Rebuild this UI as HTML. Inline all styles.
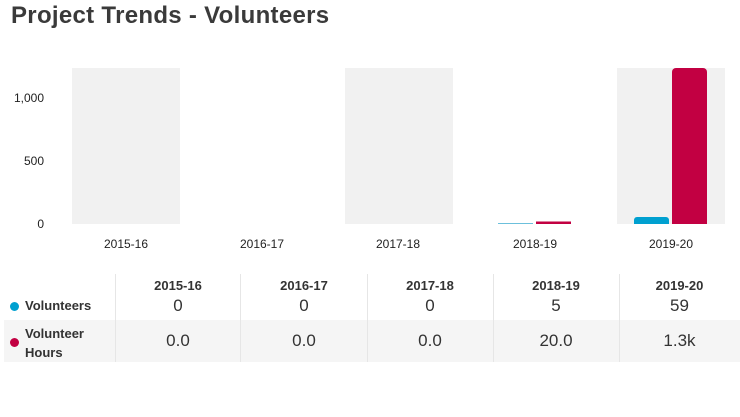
<!DOCTYPE html>
<html><head><style>
body{margin:0;width:740px;height:417px;background:#fff;font-family:"Liberation Sans",sans-serif;position:relative;overflow:hidden;color:#333}
.a{position:absolute}
td{padding:0}
</style></head><body>
<div class="a" style="left:11px;top:2px;font-size:24px;letter-spacing:0.3px;font-weight:bold;color:#3a3a3a">Project Trends - Volunteers</div>
<svg class="a" style="left:0;top:0" width="740" height="270">
<rect x="72" y="68" width="108" height="156" fill="#f1f1f1"/>
<rect x="345" y="68" width="108" height="156" fill="#f1f1f1"/>
<rect x="617" y="68" width="108" height="156" fill="#f1f1f1"/>
<rect x="498" y="223" width="35" height="1" fill="#6cc0dc"/>
<rect x="536" y="221.5" width="35" height="2.5" fill="#c20042"/>
<path d="M634 224V220a3 3 0 0 1 3-3h29a3 3 0 0 1 3 3V224Z" fill="#00a0d0"/>
<path d="M672 224V72a4 4 0 0 1 4-4h27a4 4 0 0 1 4 4V224Z" fill="#c20042"/>
<g font-size="12" fill="#222" text-anchor="end" font-family="Liberation Sans,sans-serif">
<text x="44" y="102">1,000</text><text x="44" y="165">500</text><text x="44" y="228">0</text></g>
<g font-size="12" fill="#222" text-anchor="middle" font-family="Liberation Sans,sans-serif">
<text x="126" y="248">2015-16</text><text x="262" y="248">2016-17</text><text x="398" y="248">2017-18</text><text x="535" y="248">2018-19</text><text x="671" y="248">2019-20</text></g>
</svg>
<div class="a" style="left:4px;top:274px;width:736px;height:88px">
<div class="a" style="left:0;top:46px;width:736px;height:42px;background:#f5f5f5"></div>
<div class="a" style="left:111px;top:0;width:1px;height:88px;background:#e6e6e6"></div>
<div class="a" style="left:236px;top:0;width:1px;height:88px;background:#e6e6e6"></div>
<div class="a" style="left:363px;top:0;width:1px;height:88px;background:#e6e6e6"></div>
<div class="a" style="left:489px;top:0;width:1px;height:88px;background:#e6e6e6"></div>
<div class="a" style="left:615px;top:0;width:1px;height:88px;background:#e6e6e6"></div>
</div>
<div class="a" style="left:10px;top:302px;width:9px;height:9px;border-radius:50%;background:#00a0d0"></div>
<div class="a" style="left:10px;top:338px;width:9px;height:9px;border-radius:50%;background:#c20042"></div>
<div class="a" style="left:25px;top:298px;font-size:13px;font-weight:bold;color:#333">Volunteers</div>
<div class="a" style="left:25px;top:324px;font-size:13px;font-weight:bold;color:#333;line-height:19px">Volunteer<br>Hours</div>
<div class="a" style="left:115px;top:278px;width:625px;font-size:13px;font-weight:bold;color:#333;display:flex">
<span style="width:126px;text-align:center">2015-16</span><span style="width:126px;text-align:center">2016-17</span><span style="width:126px;text-align:center">2017-18</span><span style="width:126px;text-align:center">2018-19</span><span style="width:121px;text-align:center">2019-20</span></div>
<div class="a" style="left:115px;top:296px;width:625px;font-size:17px;color:#333;display:flex">
<span style="width:126px;text-align:center">0</span><span style="width:126px;text-align:center">0</span><span style="width:126px;text-align:center">0</span><span style="width:126px;text-align:center">5</span><span style="width:121px;text-align:center">59</span></div>
<div class="a" style="left:115px;top:331px;width:625px;font-size:17px;color:#333;display:flex">
<span style="width:126px;text-align:center">0.0</span><span style="width:126px;text-align:center">0.0</span><span style="width:126px;text-align:center">0.0</span><span style="width:126px;text-align:center">20.0</span><span style="width:121px;text-align:center">1.3k</span></div>
</body></html>
